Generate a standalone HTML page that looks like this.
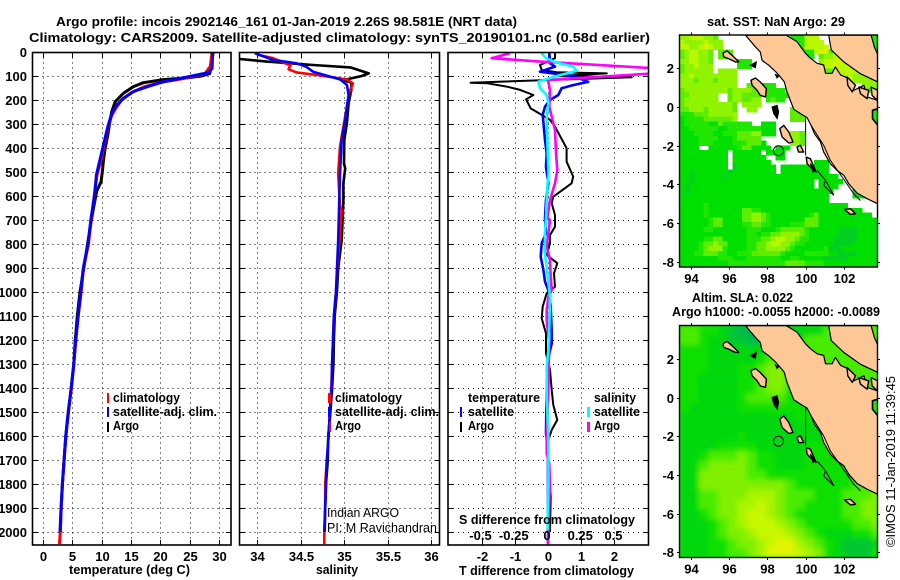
<!DOCTYPE html>
<html>
<head>
<meta charset="utf-8">
<title>Argo profile</title>
<style>
html,body{margin:0;padding:0;background:#fff;width:900px;height:580px;overflow:hidden}
svg{display:block}
text{font-family:"Liberation Sans",sans-serif;font-weight:bold;font-size:13px;fill:#000}
text.reg{font-weight:normal}
</style>
</head>
<body>
<svg id="fig" width="900" height="580" viewBox="0 0 900 580" xmlns="http://www.w3.org/2000/svg">
<defs>
<clipPath id="cp1"><rect x="32" y="52" width="199" height="493"/></clipPath>
<clipPath id="cp2"><rect x="239" y="52" width="201" height="493"/></clipPath>
<clipPath id="cp3"><rect x="448" y="52" width="201" height="493"/></clipPath>
<clipPath id="cpm1"><rect x="679" y="35" width="199" height="232"/></clipPath>
<clipPath id="cpm2"><rect x="679" y="325.5" width="199" height="232"/></clipPath>
<filter id="soft" x="-5%" y="-5%" width="110%" height="110%"><feGaussianBlur stdDeviation="2.6"/></filter>
</defs>
<rect width="900" height="580" fill="#fff"/>
<text x="56" y="26" textLength="461" lengthAdjust="spacingAndGlyphs">Argo profile: incois 2902146_161 01-Jan-2019 2.26S 98.581E (NRT data)</text>
<text x="29" y="42" textLength="621" lengthAdjust="spacingAndGlyphs">Climatology: CARS2009. Satellite-adjusted climatology: synTS_20190101.nc (0.58d earlier)</text>
<g id="panels"></g>
<g id="maps"></g>

<text x="69" y="574" textLength="121" lengthAdjust="spacingAndGlyphs">temperature (deg C)</text>
<text x="316" y="574" textLength="42" lengthAdjust="spacingAndGlyphs">salinity</text>
<text x="459" y="575" textLength="175" lengthAdjust="spacingAndGlyphs">T difference from climatology</text>
<text x="459" y="524" textLength="176" lengthAdjust="spacingAndGlyphs">S difference from climatology</text>

<g>
<rect x="107" y="393" width="2" height="10" fill="#f00"/>
<rect x="107" y="407" width="2" height="10" fill="#00f"/>
<rect x="107" y="422" width="2" height="10" fill="#000"/>
<text x="113" y="402" textLength="67" lengthAdjust="spacingAndGlyphs">climatology</text>
<text x="113" y="416" textLength="104" lengthAdjust="spacingAndGlyphs">satellite-adj. clim.</text>
<text x="113" y="430" textLength="26" lengthAdjust="spacingAndGlyphs">Argo</text>
</g>
<g>
<rect x="328" y="393" width="3" height="10" fill="#f00"/>
<rect x="328" y="407" width="3" height="10" fill="#00f"/>
<rect x="329" y="422" width="2" height="10" fill="#f00"/>
<text x="335" y="402" textLength="67" lengthAdjust="spacingAndGlyphs">climatology</text>
<text x="335" y="416" textLength="104" lengthAdjust="spacingAndGlyphs">satellite-adj. clim.</text>
<text x="335" y="430" textLength="26" lengthAdjust="spacingAndGlyphs">Argo</text>
<text class="reg" x="327" y="517" textLength="72" lengthAdjust="spacingAndGlyphs">Indian ARGO</text>
<text class="reg" x="327" y="532" textLength="110" lengthAdjust="spacingAndGlyphs">PI: M Ravichandran</text>
</g>
<g>
<text x="468" y="402" textLength="72" lengthAdjust="spacingAndGlyphs">temperature</text>
<rect x="460" y="407" width="2" height="10" fill="#00f"/>
<text x="468" y="416" textLength="46" lengthAdjust="spacingAndGlyphs">satellite</text>
<rect x="460" y="422" width="2" height="10" fill="#000"/>
<text x="468" y="430" textLength="26" lengthAdjust="spacingAndGlyphs">Argo</text>
<text x="594" y="402" textLength="42" lengthAdjust="spacingAndGlyphs">salinity</text>
<rect x="587" y="407" width="3" height="10" fill="#0ff"/>
<text x="594" y="416" textLength="46" lengthAdjust="spacingAndGlyphs">satellite</text>
<rect x="587" y="422" width="3" height="10" fill="#f0f"/>
<text x="594" y="430" textLength="26" lengthAdjust="spacingAndGlyphs">Argo</text>
</g>

<text x="707" y="26" textLength="138" lengthAdjust="spacingAndGlyphs">sat. SST: NaN Argo: 29</text>
<text x="692" y="302" textLength="101" lengthAdjust="spacingAndGlyphs">Altim. SLA: 0.022</text>
<text x="672" y="316" textLength="208" lengthAdjust="spacingAndGlyphs">Argo h1000: -0.0055 h2000: -0.0089</text>
<text class="reg" transform="translate(895,547) rotate(-90)" x="0" y="0" textLength="171" lengthAdjust="spacingAndGlyphs">©IMOS 11-Jan-2019 11:39:45</text>
</svg>
<script>
/* ---------- profile axis ticks ---------- */
const depthTicks=[0,100,200,300,400,500,600,700,800,900,1000,1100,1200,1300,1400,1500,1600,1700,1800,1900,2000];
const tempTicks=[0,5,10,15,20,25,30];
const salTicks=[34,34.5,35,35.5,36];
const tDiffTicks=[-2,-1,0,1,2];
const sDiffTicks=[-0.5,-0.25,0,0.25,0.5];

/* ---------- temperature profiles ---------- */
const tempDepths=[0,68,86,96,110,124,145,165,193,220,250,305,367,450,512,603,700,800,900,1000,1100,1200,1300,1400,1500,1600,1700,1800,1900,2000];
const tempSat=[28.9,28.8,28.2,26.2,23.4,20.5,17.7,15.4,13.7,12.6,11.8,11.1,10.5,9.7,9.1,8.75,8.15,7.67,6.87,6.42,6.0,5.56,5.25,4.8,4.3,3.86,3.6,3.3,3.07,2.9];
const tempClimDepths=[0,60,90,100,112,125,145,170,200,230,265,305,367,450,512,603,700,800,900,1000,1100,1200,1300,1400,1500,1600,1700,1800,1900,2000,2050];
const tempClim=[28.8,28.5,27.6,25.9,23.6,20.4,17.2,15,13.4,12.5,11.7,11.2,10.6,9.9,9.2,8.7,8.2,7.75,6.9,6.5,6.0,5.6,5.25,4.85,4.3,3.9,3.6,3.3,3.1,2.95,2.8];
const tempArgoDepths=[0,68,90,100,108,115,128,144,172,207,249,305,350,400,450,500,540,580,650,700,800,900,1000,1100,1200,1300,1400,1500,1600,1700,1800,1900,2000];
const tempArgo=[29,28.6,28.4,27,24.5,20.5,17.1,15.4,13.7,12.3,11.7,11.3,11,10.6,10.3,10.1,9.9,9.15,8.6,8.25,7.6,6.95,6.3,5.85,5.5,5.25,4.8,4.35,3.9,3.6,3.3,3.1,2.95];

/* ---------- salinity profiles ---------- */
const salArgoDepths=[29,40,54,64,89,100,117,128,158,214,297,367,464,485,547,617,783,900,1000,1100,1200,1300,1400,1500,1600,1700,1800,1900,2000];
const salArgo=[33.8,34.11,34.64,35.07,35.28,35.2,34.99,35.08,35.08,35.05,35.03,35,34.996,35.01,34.99,34.99,34.97,34.93,34.915,34.89,34.88,34.875,34.86,34.84,34.815,34.81,34.79,34.78,34.775];
const salClimDepths=[12,26,50,54,72,85,96,106,114,131,165,228,311,394,505,644,658,755,900,1000,1100,1200,1300,1400,1500,1600,1700,1800,1900,2000,2050];
const salClim=[34.01,34.18,34.34,34.38,34.36,34.45,34.68,34.87,35.03,35.1,35.06,35.03,34.99,34.95,34.93,34.95,34.97,34.95,34.92,34.905,34.88,34.87,34.86,34.85,34.835,34.82,34.8,34.78,34.78,34.77,34.77];
const salSatDepths=[5,33,47,61,82,99,114,137,179,228,283,367,505,644,783,900,1000,1100,1200,1300,1400,1500,1600,1700,1800,1900,2000];
const salSat=[33.97,34.18,34.45,34.56,34.64,34.8,34.95,35.03,35.05,35.03,35.01,34.97,34.95,34.94,34.93,34.916,34.905,34.88,34.87,34.86,34.855,34.835,34.82,34.8,34.79,34.78,34.77];

/* ---------- differences from climatology ---------- */
const dTArgoDepths=[3,26,54,75,84,89,100,105,128,130,144,158,179,197,235,262,283,311,401,457,519,547,603,630,679,728,763,797,846,880,922,978,1005,1061,1110,1172,1256,1325,1408,1471,1533,1575,1617,1700,1853,2000];
const dTArgo=[.21,.21,-.24,-.19,.26,1.77,.26,2.52,-2.33,-1.85,-1.24,-.84,-.44,-.66,-.52,-.19,.06,.21,.56,.56,.76,.71,.16,.11,.21,.21,.06,.06,-.04,.28,.18,.21,-.04,-.16,-.19,-.06,-.06,.06,.11,.16,.28,.11,.01,0,.08,.06];
const dTSatDepths=[3,47,61,82,89,100,124,138,151,179,200,228,262,367,422,478,547,617,693,755,797,853,908,957,992,1061,1158,1214,1256,1325,1408,1589,1650,2050];
const dTSat=[.04,.06,.21,-.24,.16,.76,1.21,.76,.41,.31,.06,-.09,-.16,-.09,-.04,-.06,.01,-.06,-.09,-.06,-.19,-.22,-.14,-.09,.01,.08,.11,.11,.04,-.02,-.04,-.06,0,0];
const dSArgoDepths=[5,26,40,68,89,114,117,158,228,325,422,492,547,617,693,700,755,811,867,936,992,1019,1075,1117,1214,1400,1589,1672,1714,1800,2050];
const dSArgo=[-.286,-.424,-.06,.8,.8,.065,0,.015,.01,.053,.06,.07,.053,.015,-.005,.015,.003,-.01,.015,.02,.028,.003,-.01,-.01,.008,.003,-.01,-.01,.01,.015,0];
const dSSatDepths=[5,26,44,61,78,100,124,151,179,214,269,367,505,561,693,755,839,894,964,1019,1144,1242,1311,1400,1436,1603,1783,1992];
const dSSat=[-.048,-.015,.065,.19,.216,.065,-.073,-.06,-.01,.003,-.01,-.005,.003,-.005,-.015,-.023,-.023,-.01,.003,.015,.01,.003,-.01,-.01,-.01,.003,.003,-.003];

/* ---------- map axes and heatmap rows ---------- */
const lonTicks=[94,96,98,100,102];
const latTicks=[2,0,-2,-4,-6,-8];
const argoLon=98.581;
const argoLat=-2.26;
const sstRows=[
"44555443...............222555..........22",
"544445444..............2225555.........22",
"554456544...............2255556........22",
"3455443.333............222225663.......22",
"3455443.333.............2222.344556444422",
"4455443.....222.........222..455665444444",
"3445444.....222..........2...455655544444",
"3444444.4444..................33555554444",
"445444444444...................3355544444",
"444344434444...................3355544444",
"444444444444..334222..................444",
"3444444444344443..2222.................33",
"33444444..3443333.22222..................",
"34444444..3443344.2322...................",
"344444444443.4444........................",
"334443444443..44.......333...............",
"222333444444...........333...............",
"122223333334...........333...............",
"122222113222222..111.....................",
"11222222112222222111.....................",
"11122221122233344111...443...............",
"11112222111233333......443...............",
"111122211112223331.....443...............",
"1111..1111112331111.111..................",
"1111111111.111111.1111...................",
"1111111111.1111111..11...................",
"1111111111.11111111.........111..........",
"1111111111.011111111.1111111111..........",
"11011111110111111111.1111111111..........",
"110111111011111111111111111111111........",
"1101111111111111111111111111.11111.......",
"1011111111111111111111111111.1111...111..",
"10111111111111111111111111111111....111..",
"1111111111111111111111111111111.....111..",
"1111111111111111111111111111111..........",
"11111211111111111111111111111111111......",
"11111211111113322111111111111111111111...",
"1111121111111334432111111112311111111111.",
"11111123311113344321111111333111111111111",
"11111123311112233221111222333111111111111",
"11111221111111222111233333211111100001111",
"11111111111111221223344443211111100001111",
"11111223311111222334554432211111000001111",
"11112334331111223345544322111111000011111",
"11112344421111223344443211111120001111111",
"11122333221122233333321111222221100001111",
"11111111222111222222211221111100000111111",
"11111111112222222222223333222211111111111",
"11111111112222222222223333222211111111111"];
const slaRows=[
"443321001222222444444",
"443221101222244444444",
"333222222333344444444",
"333222223444444444444",
"333222334554444444444",
"332222334554444444444",
"332222334553333334444",
"332222344443333333333",
"322222333333333333333",
"222222222222333333333",
"222222222222222233333",
"222222322222222233333",
"222233332222233332333",
"223444543322233333333",
"224555543322233333333",
"225555544333333333333",
"225555555554333333444",
"224455566654443334445",
"224455667654433334455",
"223455677654333334455",
"222345677765433333445",
"222345567776543222334",
"222334556788654321112",
"222334456888765321113"];
const sstColors=["#00d020","#00e000","#20e600","#60ec00","#90f400","#b8f800","#d8f000"];
const slaColors=["#00b850","#00c830","#00d810","#10e000","#48ec00","#80f000","#a8f400","#c8f800","#e0f400"];

/* ---------- coastlines (lon, lat) ---------- */
const sumatraWest=[[96.86,3.71],[97.11,3.41],[97.34,3.14],[97.63,2.84],[97.72,2.41],[98.07,2.16],[98.42,1.84],[98.68,1.55],[98.89,1.29],[99,.86],[99.2,.34],[99.38,-.12],[99.73,-.34],[100.08,-.55],[100.29,-.95],[100.46,-1.38],[100.78,-1.81],[100.95,-2.33],[101.3,-2.93],[101.65,-3.28],[102,-3.53],[102.26,-3.97],[102.7,-4.45],[103.22,-4.74],[103.78,-5]];
const sumatraEast=[[103.78,.34],[103.22,.52],[103.05,1.12],[102.52,.86],[102.26,1.47],[101.83,1.66],[101.56,2.07],[101.39,1.74],[101.04,1.74],[100.95,2.17],[100.6,2.26],[100.25,2.52],[99.99,2.78],[99.55,3.38],[98.99,3.71]];
const malayCoast=[[101.21,3.71],[101.34,2.95],[102,2.33],[102.87,1.72],[103.78,1.29],[103.78,2.7],[103.6,3.1],[103.43,3.71]];
const islandCoasts=[
[[95.68,2.79],[95.89,2.9],[96.15,2.67],[96.5,2.33],[96.32,2.33],[95.97,2.5],[95.71,2.59]],
[[97.14,1.38],[97.37,1.5],[97.63,1.29],[97.95,.95],[97.9,.52],[97.63,.6],[97.46,.86],[97.2,1.12]],
[[98.65,-1.12],[98.86,-.95],[99.12,-1.29],[99.34,-1.81],[99.12,-1.86],[98.77,-1.55]],
[[99.55,-2.07],[99.73,-1.98],[99.9,-2.33],[99.64,-2.33]],
[[100.03,-2.59],[100.25,-2.67],[100.55,-3.36],[100.34,-3.19],[100.08,-2.93]],
[[102.03,-5.29],[102.35,-5.26],[102.61,-5.52],[102.35,-5.55]],
[[102.17,1.55],[102.61,1.12],[102.44,.78],[102.21,1.12]],
[[102.79,1.03],[103.31,.86],[103.22,.43],[102.87,.69]],
[[103.43,1.03],[103.78,.86],[103.75,.34],[103.48,.6]]];
const greenIslands=[
[[103.5,-.17],[103.78,-.09],[103.78,-.95],[103.5,-.6]]];
const blackIslands=[
[[98.24,0],[98.51,.09],[98.59,-.26],[98.51,-.6],[98.33,-.34]],
[[97.11,2.16],[97.42,2.33],[97.37,2.03]],
[[100.25,-2.93],[100.52,-3.28],[100.39,-3.36]],
[[98.42,1.68],[98.6,1.6],[98.5,1.5]]];
const thinLines=[
[[100,-.55],[100,-2.5]],
[[100.29,-.95],[100.95,-1.98],[101.3,-2.76],[101.91,-3.62],[102.52,-4.48],[102.87,-4.83]],
[[100.6,-3.28],[101.04,-3.79],[101.48,-4.57],[100.95,-4.05],[101.04,-3.79]]];

/* ---------- scales ---------- */
const SVGNS="http://www.w3.org/2000/svg";
const depthY=d=>52+0.24*d;
const tempX=v=>43+5.87*v;
const salX=v=>257.3+87*(v-34);
const tDiffX=v=>548+33.2*v;
const sDiffX=v=>548+133*v;
const lonX=l=>691+19.1*(l-94);
const latY=(l,off)=>107-19.35*l+off;

function mk(parent,tag,attrs){
  const el=document.createElementNS(SVGNS,tag);
  for(const k in attrs)el.setAttribute(k,attrs[k]);
  parent.appendChild(el);
  return el;
}

const panels=document.getElementById('panels');
const maps=document.getElementById('maps');

function drawSeries(group,name,depths,vals,xf,color,width){
  const pts=vals.map((v,i)=>xf(v).toFixed(1)+','+depthY(depths[i]).toFixed(1)).join(' ');
  const el=mk(group,'polyline',{points:pts,fill:'none',stroke:color,'stroke-width':width,'stroke-linejoin':'round'});
  
  
}

function drawPanel(name,left,right,clipId,xTicks,xf,xLabels,showDepth){
  const g=mk(panels,'g',{});
  
  
  const top=52.5,bot=545;
  xTicks.forEach(t=>{
    const x=Math.round(xf(t))+.5;
    const l=mk(g,'line',{x1:x,x2:x,y1:top,y2:bot,stroke:'#000','stroke-width':1,'stroke-dasharray':'1 4'});
    
    
    const tk=mk(g,'path',{d:`M${x} ${top}v5M${x} ${bot}v-5`,stroke:'#000','stroke-width':1,fill:'none'});
    
    
    if(xLabels){
      const lab=mk(g,'text',{x:x,y:561,'text-anchor':'middle'});
      lab.textContent=String(t);
      
      
    }
  });
  depthTicks.forEach(d=>{
    const y=Math.round(depthY(d))+.5;
    const l=mk(g,'line',{x1:left,x2:right,y1:y,y2:y,stroke:'#000','stroke-width':1,'stroke-dasharray':'1 4'});
    
    
    const tk=mk(g,'path',{d:`M${left} ${y}h5M${right} ${y}h-5`,stroke:'#000','stroke-width':1,fill:'none'});
    
    
    if(showDepth){
      const lab=mk(g,'text',{x:27,y:y+4.5,'text-anchor':'end'});
      lab.textContent=String(d);
      
      
    }
  });
  const sg=mk(g,'g',{'clip-path':`url(#${clipId})`});
  
  
  const fr=mk(g,'rect',{x:left,y:top,width:right-left,height:bot-top,fill:'none',stroke:'#000','stroke-width':1.6});
  
  
  return sg;
}

/* temperature panel */
const p1=drawPanel('temperature-panel',32.5,231,'cp1',tempTicks,tempX,true,true);
drawSeries(p1,'temperature-argo-line',tempArgoDepths,tempArgo,tempX,'#000',3);
drawSeries(p1,'temperature-climatology-line',tempClimDepths,tempClim,tempX,'#f00',3);
drawSeries(p1,'temperature-satellite-line',tempDepths,tempSat,tempX,'#00f',3);

/* salinity panel */
const p2=drawPanel('salinity-panel',239.5,439.5,'cp2',salTicks,salX,true,false);
drawSeries(p2,'salinity-argo-line',salArgoDepths,salArgo,salX,'#000',2.6);
drawSeries(p2,'salinity-climatology-line',salClimDepths,salClim,salX,'#f00',2.6);
drawSeries(p2,'salinity-satellite-line',salSatDepths,salSat,salX,'#00f',2.6);

/* difference panel */
const p3=drawPanel('difference-panel',448,648.5,'cp3',tDiffTicks,tDiffX,true,false);
sDiffTicks.forEach(t=>{
  const lab=mk(panels,'text',{x:sDiffX(t)-1,y:540,'text-anchor':'middle'});
  lab.textContent=String(t);
  
  
});
drawSeries(p3,'t-diff-argo-line',dTArgoDepths,dTArgo,tDiffX,'#000',2);
drawSeries(p3,'t-diff-satellite-line',dTSatDepths,dTSat,tDiffX,'#00f',2.6);
drawSeries(p3,'s-diff-argo-line',dSArgoDepths,dSArgo,sDiffX,'#f0f',2.6);
drawSeries(p3,'s-diff-satellite-line',dSSatDepths,dSSat,sDiffX,'#0ff',2.6);

/* maps */
function polyPts(arr,off){return arr.map(p=>lonX(p[0]).toFixed(1)+','+latY(p[1],off).toFixed(1)).join(' ');}

function drawCoast(g,off){
  const sum=mk(g,'polygon',{points:polyPts(sumatraWest.concat(sumatraEast),off),fill:'#fdc896',stroke:'#000','stroke-width':1.2,'stroke-linejoin':'round'});
  
  
  const mal=mk(g,'polygon',{points:polyPts(malayCoast,off),fill:'#fdc896',stroke:'#000','stroke-width':1.2});
  
  
  islandCoasts.forEach(isl=>{
    const e=mk(g,'polygon',{points:polyPts(isl,off),fill:'#fdc896',stroke:'#000','stroke-width':1.4,'stroke-linejoin':'round'});
    
    
  });
  greenIslands.forEach(isl=>{
    const e=mk(g,'polygon',{points:polyPts(isl,off),fill:'#20e600',stroke:'#000','stroke-width':1.6,'stroke-linejoin':'round'});
    
    
  });
  blackIslands.forEach(isl=>{
    const e=mk(g,'polygon',{points:polyPts(isl,off),fill:'#000',stroke:'#000','stroke-width':1});
    
    
  });
  thinLines.forEach(li=>{
    const e=mk(g,'polyline',{points:polyPts(li,off),fill:'none',stroke:'#000','stroke-width':1});
    
    
  });
  const c=mk(g,'circle',{cx:lonX(argoLon),cy:latY(argoLat,off),r:5,fill:'none',stroke:'#000','stroke-width':1});
  
  
}

function drawMapFrame(name,top,off,clipId){
  const left=679.5,right=877.5,bottom=top+232;
  const g=mk(maps,'g',{});
  
  
  const bg=mk(g,'g',{'clip-path':`url(#${clipId})`});
  
  
  lonTicks.forEach(l=>{
    const x=Math.round(lonX(l))+.5;
    const tk=mk(g,'path',{d:`M${x} ${top}v-2.5M${x} ${bottom}v2.5`,stroke:'#000','stroke-width':1,fill:'none'});
    
    
    const lab=mk(g,'text',{x:x,y:bottom+16,'text-anchor':'middle'});
    lab.textContent=String(l);
    
    
  });
  latTicks.forEach(l=>{
    const y=Math.round(latY(l,off))+.5;
    const tk=mk(g,'path',{d:`M${left} ${y}h-2.5M${right} ${y}h2.5`,stroke:'#000','stroke-width':1,fill:'none'});
    
    
    const lab=mk(g,'text',{x:674,y:y+4.5,'text-anchor':'end'});
    lab.textContent=String(l);
    
    
  });
  const fr=mk(g,'rect',{x:left,y:top,width:right-left,height:232,fill:'none',stroke:'#000','stroke-width':1.4});
  
  
  return bg;
}

/* SST map */
const m1=drawMapFrame('sst-map',35,0,'cpm1');
const m1bg=mk(m1,'rect',{x:679,y:35,width:199,height:232,fill:'#fff'});


sstRows.forEach((row,r)=>{
  for(let c=0;c<row.length;c++){
    const ch=row[c];
    if(ch==='.')continue;
    const cell=mk(m1,'rect',{x:(679.5+4.8*c).toFixed(1),y:(35+4.8*r).toFixed(1),width:5.3,height:5.3,fill:sstColors[+ch],'shape-rendering':'crispEdges'});
    
    
  }
});
drawCoast(m1,0);

/* SLA map */
const m2=drawMapFrame('sla-map',325.5,290.5,'cpm2');
const m2bg=mk(m2,'rect',{x:679,y:325,width:199,height:233,fill:'#10e000'});


const slaG=mk(m2,'g',{filter:'url(#soft)'});


slaRows.forEach((row,r)=>{
  for(let c=0;c<row.length;c++){
    const cell=mk(slaG,'rect',{x:(679.5+9.6*c).toFixed(1),y:(325.5+9.67*r).toFixed(1),width:10.2,height:10.3,fill:slaColors[+row[c]]});
    
    
  }
});
drawCoast(m2,290.5);
</script>
</body>
</html>
